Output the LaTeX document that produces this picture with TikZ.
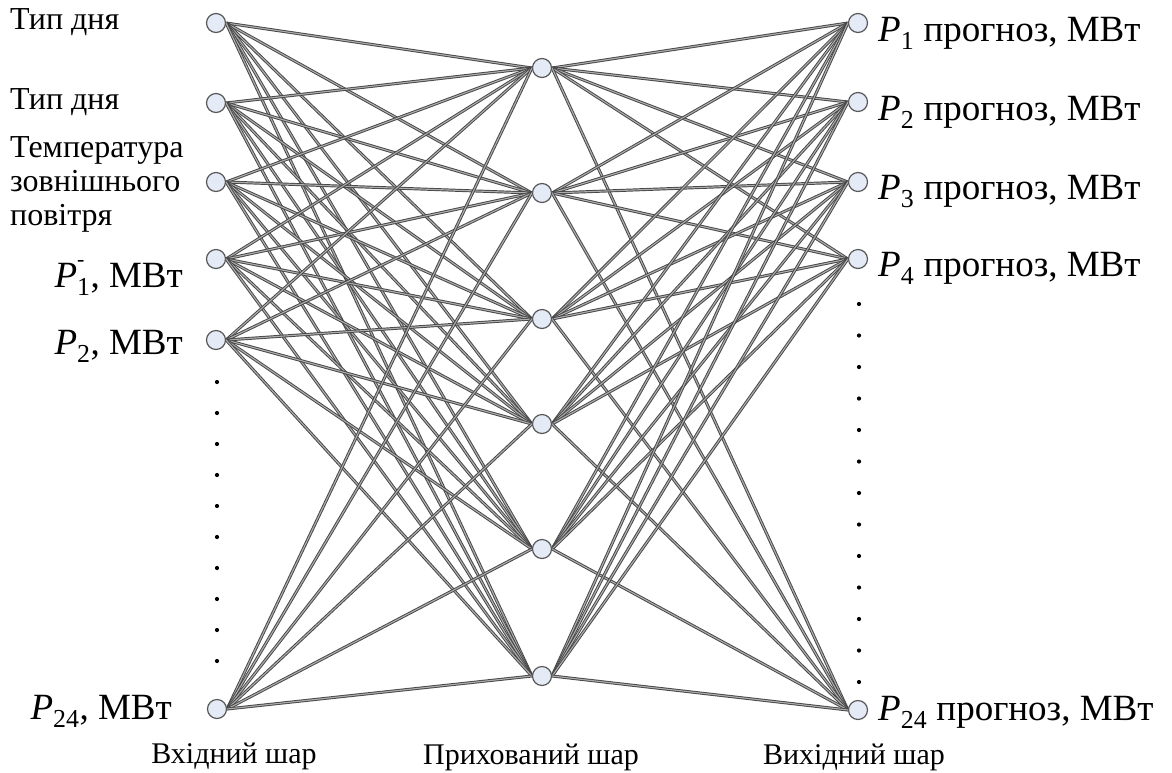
\documentclass[tikz,border=0pt]{standalone}
\usepackage{fontspec}
\setmainfont{Liberation Serif}
\usetikzlibrary{backgrounds}
\definecolor{nfill}{HTML}{E4EBF6}
\begin{document}
\begin{tikzpicture}[x=1pt,y=-1pt,
  neuron/.style={circle, draw=black!65, fill=nfill, line width=1.2pt, minimum size=19pt, inner sep=0pt},
  link/.style={draw=black!72, double=black!32, double distance=1.1pt, line width=0.95pt},
  lbl/.style={font=\fontsize{32}{34}\selectfont, inner sep=0pt},
  plbl/.style={font=\fontsize{37}{39}\selectfont, inner sep=0pt},
  layer/.style={font=\fontsize{30}{32}\selectfont, inner sep=0pt},
  dotmark/.style={fill=black}
]
\useasboundingbox (0,0) rectangle (1172,772);

% input layer
\node[neuron] (i1) at (216,23) {};
\node[neuron] (i2) at (216,103) {};
\node[neuron] (i3) at (216,182) {};
\node[neuron] (i4) at (216,259) {};
\node[neuron] (i5) at (216,340) {};
\node[neuron] (i6) at (217,709) {};

% hidden layer
\node[neuron] (h1) at (542,68) {};
\node[neuron] (h2) at (542,193) {};
\node[neuron] (h3) at (542,319) {};
\node[neuron] (h4) at (542,424) {};
\node[neuron] (h5) at (542,549) {};
\node[neuron] (h6) at (542,676) {};

% output layer
\node[neuron] (o1) at (858,23) {};
\node[neuron] (o2) at (858,102) {};
\node[neuron] (o3) at (858,182) {};
\node[neuron] (o4) at (858,259) {};
\node[neuron] (o5) at (858,710) {};

\begin{scope}[on background layer]
  \foreach \a in {1,...,6}
    \foreach \b in {1,...,6}
      \draw[link] (i\a.east) -- (h\b.west);
  \foreach \a in {1,...,6}
    \foreach \b in {1,...,5}
      \draw[link] (h\a.east) -- (o\b.west);
\end{scope}

% dots
\foreach \k in {0,...,9}
  \fill[dotmark] (217,382+31*\k) circle (2.1);
\foreach \k in {0,...,12}
  \fill[dotmark] (859,304+31.5*\k) circle (2.1);

% input labels
\node[lbl, anchor=west] (t1) at (10,22) {Тип дня};
\node[lbl, anchor=west] (t2) at (10,102) {Тип дня};
\node[lbl, anchor=west, align=left] (t3) at (10,184) {Температура\\зовнішнього\\повітря};
\node[plbl, anchor=base east] (t4) at (183,287) {\textit{P}\rlap{\raisebox{0.55em}{\fontsize{22}{22}\selectfont -}}\textsubscript{1}, МВт};
\node[plbl, anchor=base east] (t5) at (183,354) {\textit{P}\textsubscript{2}, МВт};
\node[plbl, anchor=base east] (t6) at (172,719) {\textit{P}\textsubscript{24}, МВт};

% output labels
\node[plbl, anchor=base west] (r1) at (878,41) {\textit{P}\textsubscript{1} прогноз, МВт};
\node[plbl, anchor=base west] (r2) at (878,120) {\textit{P}\textsubscript{2} прогноз, МВт};
\node[plbl, anchor=base west] (r3) at (878,199) {\textit{P}\textsubscript{3} прогноз, МВт};
\node[plbl, anchor=base west] (r4) at (878,276) {\textit{P}\textsubscript{4} прогноз, МВт};
\node[plbl, anchor=base west] (r5) at (878,720) {\textit{P}\textsubscript{24} прогноз, МВт};

% layer captions
\node[layer] (b1) at (234,756) {Вхідний шар};
\node[layer] (b2) at (531,757) {Прихований шар};
\node[layer] (b3) at (854,757) {Вихідний шар};
\end{tikzpicture}
\end{document}
